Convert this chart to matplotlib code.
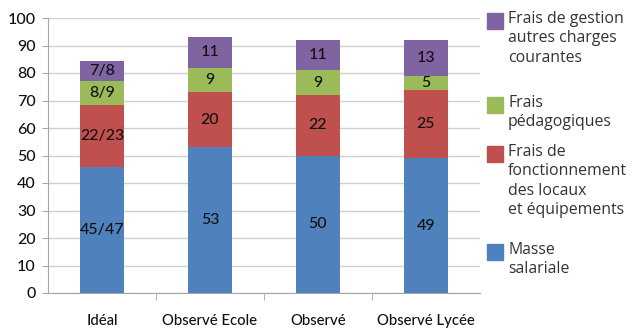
import matplotlib
matplotlib.use("Agg")
import matplotlib.pyplot as plt
from matplotlib.patches import Rectangle
import numpy as np

categories = ["Idéal", "Observé Ecole", "Observé", "Observé Lycée"]
masse_salariale = [46, 53, 50, 49]
frais_fonctionnement = [22.5, 20, 22, 25]
frais_pedagogiques = [8.5, 9, 9, 5]
frais_gestion = [7.5, 11, 11, 13]

labels_masse = ["45/47", "53", "50", "49"]
labels_fonct = ["22/23", "20", "22", "25"]
labels_peda = ["8/9", "9", "9", "5"]
labels_gestion = ["7/8", "11", "11", "13"]

legend_names = [
    "Frais de gestion\nautres charges\ncourantes",
    "Frais\npédagogiques",
    "Frais de\nfonctionnement\ndes locaux\net équipements",
    "Masse\nsalariale",
]

colors = ["#4F81BD", "#C0504D", "#9BBB59", "#8064A2"]
tick_font = "Lato"
legend_font = "Open Sans"

fig = plt.figure(figsize=(6.38, 3.29), dpi=100)
ax = fig.add_axes([48 / 638, 1 - 293 / 329, 432 / 638, 275 / 329])

x = np.arange(len(categories))
series = [masse_salariale, frais_fonctionnement, frais_pedagogiques, frais_gestion]
labels = [labels_masse, labels_fonct, labels_peda, labels_gestion]
bottom = np.zeros(len(categories))
for vals, col, labs in zip(series, colors, labels):
    vals = np.array(vals, dtype=float)
    ax.bar(x, vals, width=0.41, bottom=bottom, color=col, zorder=3)
    for xi, b, v, t in zip(x, bottom, vals, labs):
        ax.text(xi, b + v / 2, t, ha="center", va="center", fontsize=11.5,
                family=tick_font, fontweight="medium", color="#111111", zorder=4)
    bottom += vals

ax.set_xlim(-0.5, len(categories) - 0.5)
ax.set_ylim(0, 100)
ax.set_yticks(np.arange(0, 101, 10))
ax.yaxis.grid(True, color="#D3CFCF", linewidth=1.0, zorder=0)
ax.set_axisbelow(True)

for s in ["top", "right"]:
    ax.spines[s].set_visible(False)
ax.spines["left"].set_color("#A6A6A6")
ax.spines["bottom"].set_color("#A6A6A6")

ax.set_xticks(x)
ax.set_xticklabels(categories, family=tick_font, fontsize=10.7,
                   fontweight="medium", color="#111111")
ax.set_xticks(np.arange(0.5, len(categories) - 0.5, 1), minor=True)
ax.tick_params(axis="x", which="major", length=0, pad=15)
ax.tick_params(axis="x", which="minor", length=5, color="#A6A6A6", direction="out")
ax.tick_params(axis="y", length=4, color="#A6A6A6", pad=5)
for lab in ax.get_yticklabels():
    lab.set_family(tick_font)
    lab.set_fontsize(11.5)
    lab.set_fontweight("medium")
    lab.set_color("#111111")

# Legend drawn at the right of the plot area
entry_tops = [13, 97, 146, 244]
for name, col, top in zip(legend_names, colors[::-1], entry_tops):
    fig.patches.append(Rectangle((487 / 638, 1 - (top + 16) / 329), 16 / 638, 16 / 329,
                                 transform=fig.transFigure, color=col))
    fig.text(508 / 638, 1 - (top - 2) / 329, name, ha="left", va="top",
             family=legend_font, fontsize=11.4, color="#333333", linespacing=1.29)

fig.savefig("out.png", dpi=100)
